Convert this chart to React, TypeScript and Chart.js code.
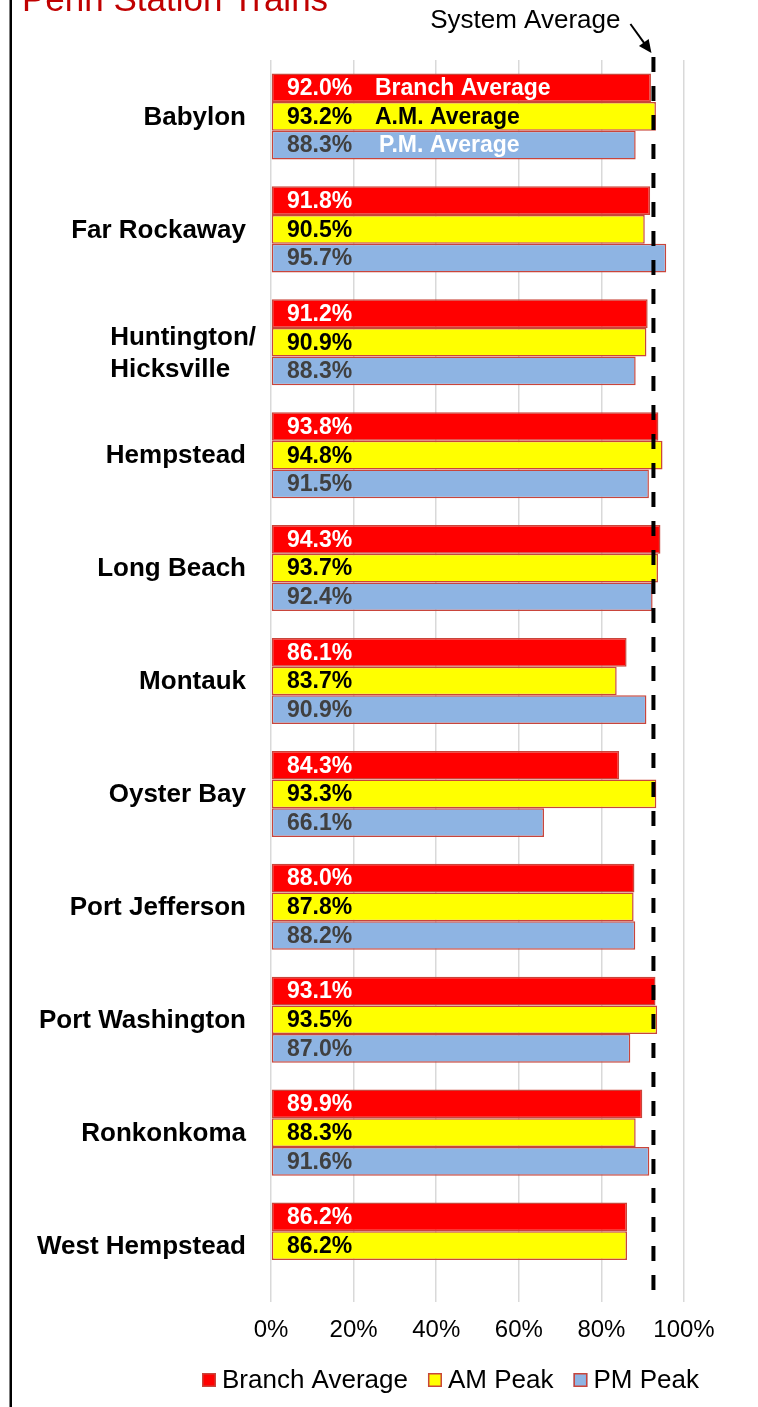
import React, { useEffect, useRef } from "react";
import { Chart, registerables } from "chart.js";

Chart.register(...registerables);

// ---- data ----
const categories: (string | string[])[] = [
  "Babylon",
  "Far Rockaway",
  ["Huntington/", "Hicksville"],
  "Hempstead",
  "Long Beach",
  "Montauk",
  "Oyster Bay",
  "Port Jefferson",
  "Port Washington",
  "Ronkonkoma",
  "West Hempstead",
];
const branchAverage = [92.0, 91.8, 91.2, 93.8, 94.3, 86.1, 84.3, 88.0, 93.1, 89.9, 86.2];
const amPeak = [93.2, 90.5, 90.9, 94.8, 93.7, 83.7, 93.3, 87.8, 93.5, 88.3, 86.2];
const pmPeak: (number | null)[] = [88.3, 95.7, 88.3, 91.5, 92.4, 90.9, 66.1, 88.2, 87.0, 91.6, null];
const systemAverage = 92.6;
const seriesNames = ["Branch Average", "AM Peak", "PM Peak"];
const babylonNotes = ["Branch Average", "A.M. Average", "P.M. Average"];
const tickValues = [0, 20, 40, 60, 80, 100];
const titleText = "Penn Station Trains";
const systemLabel = "System Average";

// ---- style ----
const FONT = '"Liberation Sans", Arial, Helvetica, sans-serif';
const W = 758;
const H = 1407;
const fills = ["#FF0000", "#FFFF00", "#8EB4E3"];
const labelColors = ["#FFFFFF", "#000000", "#404040"];
const noteColors = ["#FFFFFF", "#000000", "#FFFFFF"];
const BORDER = "#C9453B";

const overlayPlugin = {
  id: "overlay",
  afterDatasetsDraw(chart: any) {
    const ctx = chart.ctx as CanvasRenderingContext2D;
    const xs = chart.scales.x;
    const ys = chart.scales.y;
    const area = chart.chartArea;
    const x0 = xs.getPixelForValue(0);

    // value labels inside bars
    ctx.save();
    ctx.textBaseline = "middle";
    ctx.textAlign = "left";
    ctx.font = `bold 23px ${FONT}`;
    chart.data.datasets.forEach((ds: any, di: number) => {
      const meta = chart.getDatasetMeta(di);
      meta.data.forEach((el: any, i: number) => {
        const v = ds.data[i];
        if (v === null || v === undefined) return;
        ctx.fillStyle = labelColors[di];
        ctx.fillText(v.toFixed(1) + "%", x0 + 16, el.y + 1);
        if (i === 0) {
          ctx.fillStyle = noteColors[di];
          ctx.fillText(babylonNotes[di], x0 + (di === 2 ? 108 : 104), el.y + 1);
        }
      });
    });
    ctx.restore();

    // system average dashed line
    const lx = xs.getPixelForValue(systemAverage);
    ctx.save();
    ctx.strokeStyle = "#000";
    ctx.lineWidth = 4;
    ctx.setLineDash([15, 14]);
    ctx.beginPath();
    ctx.moveTo(lx, area.top - 3);
    ctx.lineTo(lx, area.bottom - 6);
    ctx.stroke();
    ctx.restore();

    // category labels
    ctx.save();
    ctx.font = `bold 26px ${FONT}`;
    ctx.fillStyle = "#000";
    ctx.textBaseline = "middle";
    const rightEdge = area.left - 25;
    categories.forEach((lab, i) => {
      const cy = ys.getPixelForValue(i);
      if (Array.isArray(lab)) {
        const maxW = Math.max(...lab.map((s) => ctx.measureText(s).width));
        const left = rightEdge + 10 - maxW;
        ctx.textAlign = "left";
        lab.forEach((s, k) => ctx.fillText(s, left, cy - 4 + k * 31.5));
      } else {
        ctx.textAlign = "right";
        ctx.fillText(lab, rightEdge, cy + 1);
      }
    });
    ctx.restore();
  },
  afterDraw(chart: any) {
    const ctx = chart.ctx as CanvasRenderingContext2D;
    const xs = chart.scales.x;
    const lx = xs.getPixelForValue(systemAverage);

    ctx.save();
    // left frame line
    ctx.fillStyle = "#000";
    ctx.fillRect(9.5, 0, 2.5, H);

    // title (partially cut off)
    ctx.font = `35px ${FONT}`;
    ctx.fillStyle = "#C00000";
    ctx.textAlign = "left";
    ctx.textBaseline = "alphabetic";
    ctx.fillText(titleText, 22, 11);

    // System Average annotation
    ctx.font = `26px ${FONT}`;
    ctx.fillStyle = "#000";
    ctx.textAlign = "right";
    ctx.fillText(systemLabel, lx - 33, 28);

    // arrow
    const ax0 = lx - 23, ay0 = 24, ax1 = lx - 2, ay1 = 53;
    const ang = Math.atan2(ay1 - ay0, ax1 - ax0);
    const hl = 13, hw = 6;
    ctx.strokeStyle = "#000";
    ctx.lineWidth = 2;
    ctx.beginPath();
    ctx.moveTo(ax0, ay0);
    ctx.lineTo(ax1 - Math.cos(ang) * hl * 0.8, ay1 - Math.sin(ang) * hl * 0.8);
    ctx.stroke();
    ctx.beginPath();
    ctx.moveTo(ax1, ay1);
    ctx.lineTo(ax1 - Math.cos(ang) * hl + Math.sin(ang) * hw, ay1 - Math.sin(ang) * hl - Math.cos(ang) * hw);
    ctx.lineTo(ax1 - Math.cos(ang) * hl - Math.sin(ang) * hw, ay1 - Math.sin(ang) * hl + Math.cos(ang) * hw);
    ctx.closePath();
    ctx.fill();

    // legend
    ctx.font = `26px ${FONT}`;
    ctx.textAlign = "left";
    ctx.textBaseline = "middle";
    let x = 202;
    const ly = 1380;
    seriesNames.forEach((name, i) => {
      ctx.fillStyle = fills[i];
      ctx.fillRect(x, ly - 7, 14, 14);
      ctx.strokeStyle = BORDER;
      ctx.lineWidth = 1.5;
      ctx.strokeRect(x + 0.75, ly - 6.25, 12.5, 12.5);
      ctx.fillStyle = "#000";
      ctx.fillText(name, x + 20, ly + 1);
      x += 20 + ctx.measureText(name).width + 20;
    });
    ctx.restore();
  },
};

export default function App() {
  const ref = useRef<HTMLCanvasElement | null>(null);

  useEffect(() => {
    if (!ref.current) return;
    const mk = (label: string, data: (number | null)[], i: number) => ({
      label,
      data,
      backgroundColor: fills[i],
      borderColor: BORDER,
      borderWidth: 1.5,
      borderSkipped: false,
      barPercentage: 1,
      categoryPercentage: 0.762,
    });
    const chart = new Chart(ref.current, {
      type: "bar",
      data: {
        labels: categories as any,
        datasets: [
          mk(seriesNames[0], branchAverage, 0),
          mk(seriesNames[1], amPeak, 1),
          mk(seriesNames[2], pmPeak, 2),
        ] as any,
      },
      options: {
        indexAxis: "y",
        responsive: false,
        animation: false,
        devicePixelRatio: 1,
        layout: { padding: { top: 60, right: 74, bottom: 0, left: 0 } },
        plugins: {
          legend: { display: false },
          tooltip: { enabled: false },
        },
        scales: {
          x: {
            min: 0,
            max: 100,
            afterBuildTicks: (scale: any) => {
              scale.ticks = tickValues.map((v) => ({ value: v }));
            },
            ticks: {
              callback: (v: any) => v + "%",
              font: { family: FONT, size: 24 },
              color: "#000",
              padding: 14,
              maxRotation: 0,
            },
            grid: { color: "#d9d9d9", lineWidth: 1.5, drawTicks: false },
            border: { display: false },
            afterFit: (scale: any) => {
              scale.height = 105;
            },
          },
          y: {
            ticks: { display: false },
            grid: { display: false },
            border: { display: false },
            afterFit: (scale: any) => {
              scale.width = 271;
            },
          },
        },
      } as any,
      plugins: [overlayPlugin],
    });
    return () => chart.destroy();
  }, []);

  return (
    <div style={{ position: "absolute", left: 0, top: 0, width: W, height: H, background: "#fff" }}>
      <canvas ref={ref} width={W} height={H} style={{ display: "block", width: W, height: H }} />
    </div>
  );
}
